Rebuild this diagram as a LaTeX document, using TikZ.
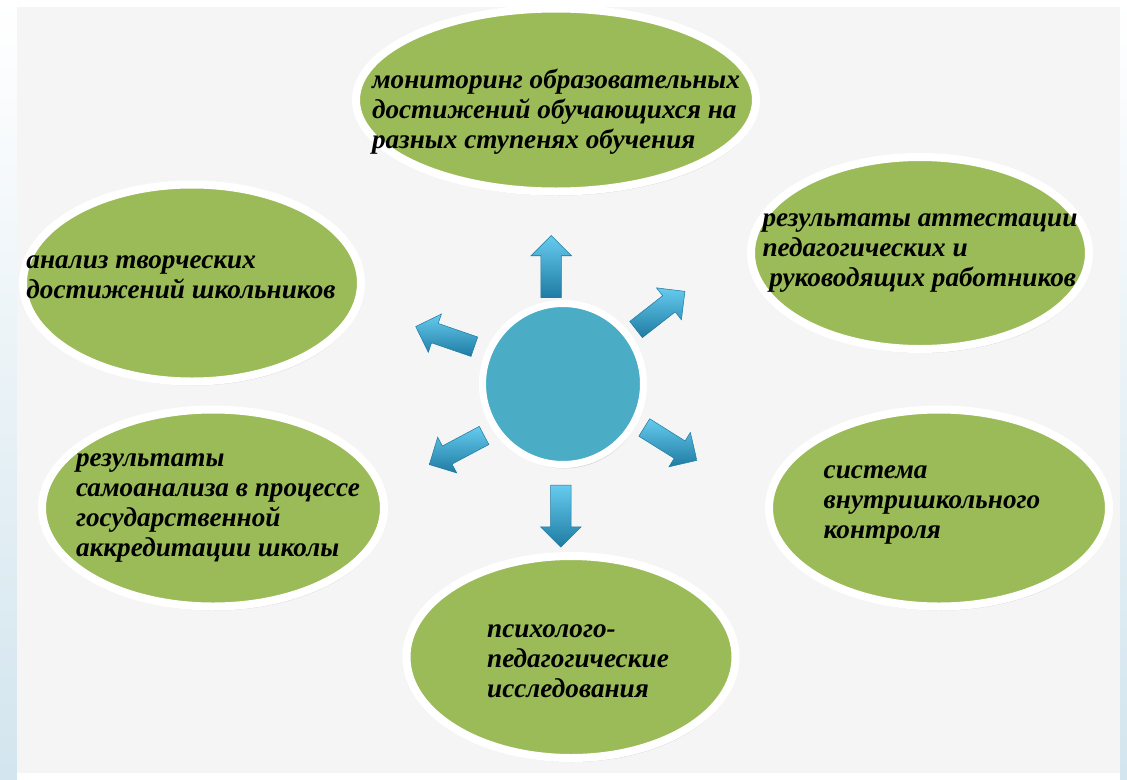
\documentclass[tikz,border=0pt]{standalone}
\usepackage{fontspec}
\setmainfont{Liberation Serif}
\usetikzlibrary{shapes.geometric,shapes.arrows,shadows}
\definecolor{leaf}{HTML}{9BBB59}
\definecolor{sky}{HTML}{4BACC6}
\definecolor{skylight}{HTML}{66CBEE}
\definecolor{skydark}{HTML}{1F7BA3}
\definecolor{strip}{HTML}{D3E5EE}
\definecolor{panel}{HTML}{F5F5F5}

\begin{document}
\begin{tikzpicture}[
  bubble/.style={ellipse, draw=white, line width=1.6mm, fill=leaf, inner sep=0pt,
    drop shadow={opacity=0.3, shadow xshift=0.3mm, shadow yshift=-0.8mm}},
  txt/.style={align=left, inner sep=0pt, font=\fontsize{15.5}{17}\selectfont\bfseries\itshape},
  hubdisc/.style={circle, draw=white, line width=1.4mm, fill=sky, minimum size=3.22cm,
    drop shadow={opacity=0.25, shadow xshift=0.3mm, shadow yshift=-0.8mm}},
  blockarrow/.style={single arrow, draw=skydark, line width=0.3pt,
    inner xsep=0pt, inner ysep=0.2cm,
    top color=skylight, bottom color=skydark, minimum height=1.24cm, minimum width=0.8cm,
    single arrow head extend=0.2cm}
]
\useasboundingbox (0,0) rectangle (22.54,-15.58);
\fill[white] (0,0) rectangle (22.54,-15.58);
\shade[top color=white, bottom color=strip] (0,0) rectangle (0.34,-15.58);
\shade[top color=white, bottom color=strip] (22.4,0) rectangle (22.54,-15.58);
\fill[panel] (0.34,-0.14) rectangle (22.4,-15.46);

\node[bubble, minimum width=8.0cm, minimum height=3.66cm,
  label={[txt, yshift=-0.24cm]center:{мониторинг образовательных\\достижений обучающихся на\\разных ступенях обучения}}]
  (1) at (11.12,-2.0) {};
\node[bubble, minimum width=6.76cm, minimum height=3.84cm,
  label={[txt]center:{результаты аттестации\\педагогических и\\\hspace{0.25em}руководящих работников}}]
  (2) at (18.4,-5.06) {};
\node[bubble, minimum width=6.76cm, minimum height=3.94cm,
  label={[txt, xshift=-0.22cm, yshift=0.12cm]center:{анализ творческих\\достижений школьников}}]
  (3) at (3.84,-5.66) {};
\node[bubble, minimum width=6.84cm, minimum height=3.94cm,
  label={[txt, xshift=0.1cm]center:{результаты\\самоанализа в процессе\\государственной\\аккредитации школы}}]
  (4) at (4.26,-10.16) {};
\node[bubble, minimum width=6.8cm, minimum height=3.94cm,
  label={[txt, xshift=-0.14cm, yshift=0.06cm]center:{система\\внутришкольного\\контроля}}]
  (5) at (18.78,-10.16) {};
\node[bubble, minimum width=6.58cm, minimum height=4.04cm,
  label={[txt, xshift=0.14cm, yshift=-0.08cm]center:{психолого-\\педагогические\\исследования}}]
  (6) at (11.42,-13.14) {};

\node[hubdisc] (0) at (11.26,-7.68) {};

\foreach \n/\a/\r/\t in {1/96/2.26/90, 2/37/2.34/38, 3/158/2.44/161,
                         4/212/2.4/208, 5/-29/2.36/-32, 6/-91/2.54/-90}
  \node[blockarrow, rotate=\t] (a\n) at ([shift={(\a:\r)}]0.center) {};
\end{tikzpicture}
\end{document}
